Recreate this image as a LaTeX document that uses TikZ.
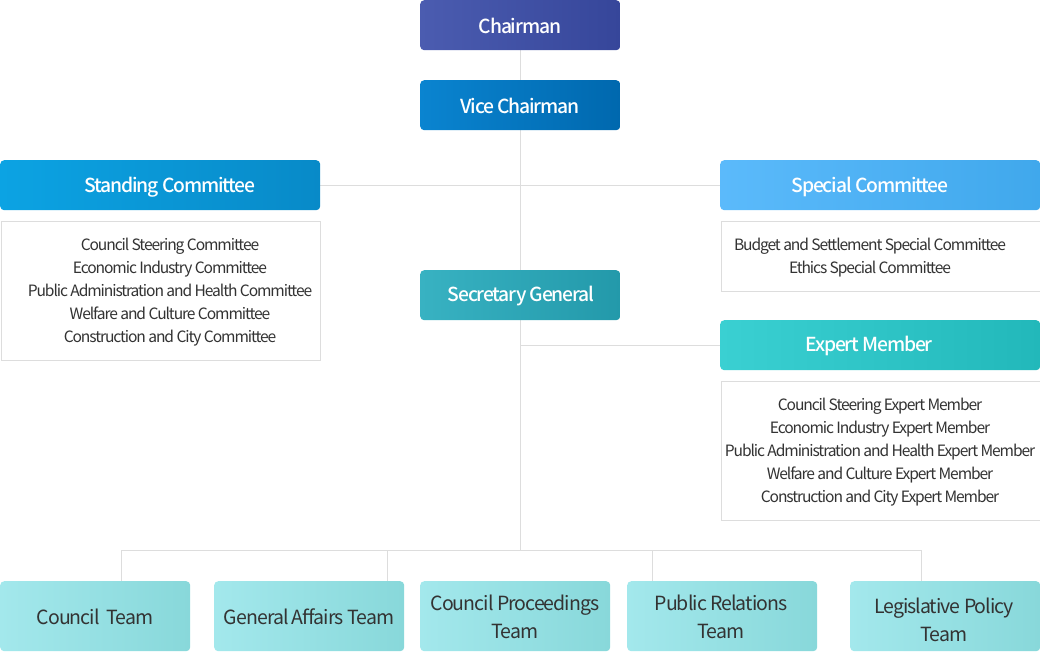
\documentclass[tikz,border=0pt]{standalone}
\usepackage{fontspec}
\setmainfont{Noto Sans CJK KR}[LetterSpace=-5]
\newfontfamily\listfont{Noto Sans CJK KR}[LetterSpace=-7]
\newfontfamily\headfont{Noto Sans CJK KR Medium}[LetterSpace=-6]
\definecolor{lineg}{HTML}{DDDDDD}
\definecolor{txt}{HTML}{333333}
\begin{document}
\begin{tikzpicture}[x=1pt,y=-1pt,
  hbox/.style={anchor=north west,minimum height=50pt,inner sep=0pt,rounded corners=4pt,shading=axis,shading angle=90},
  htext/.style={text=white,font=\headfont\fontsize{19.3}{22}\selectfont,inner sep=0pt},
  lbox/.style={anchor=north west,draw=lineg,line width=1pt,inner sep=0pt,fill=white},
  ltext/.style={text=txt,font=\listfont\fontsize{15.6}{23}\selectfont,align=center,inner sep=0pt},
  tbox/.style={anchor=north west,minimum width=190pt,minimum height=70pt,inner sep=0pt,rounded corners=4pt,shading=axis,shading angle=90,left color=tl,right color=tr},
  ttext/.style={text=txt,font=\fontsize{19.5}{28}\selectfont,align=center,inner sep=0pt},
  conn/.style={draw=lineg,line width=1pt}]
\definecolor{tl}{HTML}{A3E8EC}
\definecolor{tr}{HTML}{88D8DA}
\useasboundingbox (0,0) rectangle (1040,651);
% connectors (drawn first, under boxes)
\coordinate (top) at (520,50);
\coordinate (bus) at (520,550);
\coordinate (busl) at (121,550);
\coordinate (busr) at (921,550);
\coordinate (b2) at (387,550);
\coordinate (b4) at (652,550);
\coordinate (h1l) at (320,185);
\coordinate (h1r) at (720,185);
\coordinate (h2l) at (520,345);
\coordinate (h2r) at (720,345);
\draw[conn] (top) -- (bus);
\draw[conn] (h1l) -- (h1r);
\draw[conn] (h2l) -- (h2r);
\draw[conn] (busl) -- (busr);
\draw[conn] (busl) -- (121,581);
\draw[conn] (b2) -- (387,581);
\draw[conn] (b4) -- (652,581);
\draw[conn] (busr) -- (921,581);
% header boxes
\node[hbox,minimum width=200pt,left color={rgb,255:red,75;green,92;blue,176},right color={rgb,255:red,54;green,70;blue,154}] (chair) at (420,0) {};
\node[htext] (chairt) at (520,25.5) {Chairman};
\node[hbox,minimum width=200pt,left color={rgb,255:red,10;green,132;blue,208},right color={rgb,255:red,0;green,104;blue,174}] (vice) at (420,80) {};
\node[htext] (vicet) at (520,105.5) {Vice Chairman};
\node[hbox,minimum width=320pt,left color={rgb,255:red,12;green,163;blue,227},right color={rgb,255:red,8;green,138;blue,200}] (stand) at (0,160) {};
\node[htext] (standt) at (170,187) {Standing Committee};
\node[hbox,minimum width=320pt,left color={rgb,255:red,91;green,186;blue,251},right color={rgb,255:red,64;green,168;blue,236}] (spec) at (720,160) {};
\node[htext] (spect) at (870,186.5) {Special Committee};
\node[hbox,minimum width=200pt,left color={rgb,255:red,56;green,178;blue,194},right color={rgb,255:red,35;green,153;blue,170}] (sec) at (420,270) {};
\node[htext] (sect) at (521,296) {Secretary General};
\node[hbox,minimum width=320pt,left color={rgb,255:red,58;green,208;blue,210},right color={rgb,255:red,34;green,184;blue,186}] (exp) at (720,320) {};
\node[htext] (expt) at (869,346) {Expert Member};
% list boxes
\node[lbox,minimum width=319pt,minimum height=139pt] (standl) at (0.5,220.5) {};
\node[ltext] (standlt) at (170,292) {Council Steering Committee\\Economic Industry Committee\\Public Administration and Health Committee\\Welfare and Culture Committee\\Construction and City Committee};
\node[lbox,minimum width=319pt,minimum height=70pt] (specl) at (720.5,220.5) {};
\node[ltext] (speclt) at (870,258) {Budget and Settlement Special Committee\\Ethics Special Committee};
\node[lbox,minimum width=319pt,minimum height=139pt] (expl) at (720.5,380.5) {};
\node[ltext] (explt) at (880,452) {Council Steering Expert Member\\Economic Industry Expert Member\\Public Administration and Health Expert Member\\Welfare and Culture Expert Member\\Construction and City Expert Member};
% teams
\node[tbox] (t1) at (0,581) {};
\node[ttext] (t1t) at (95,617) {Council\ \ Team};
\node[tbox] (t2) at (214,581) {};
\node[ttext] (t2t) at (309,617) {General Affairs Team};
\node[tbox] (t3) at (420,581) {};
\node[ttext] (t3t) at (515,617) {Council Proceedings\\Team};
\node[tbox] (t4) at (627,581) {};
\node[ttext] (t4t) at (721,617) {Public Relations\\Team};
\node[tbox] (t5) at (850,581) {};
\node[ttext] (t5t) at (944,620) {Legislative Policy\\Team};
\end{tikzpicture}
\end{document}
